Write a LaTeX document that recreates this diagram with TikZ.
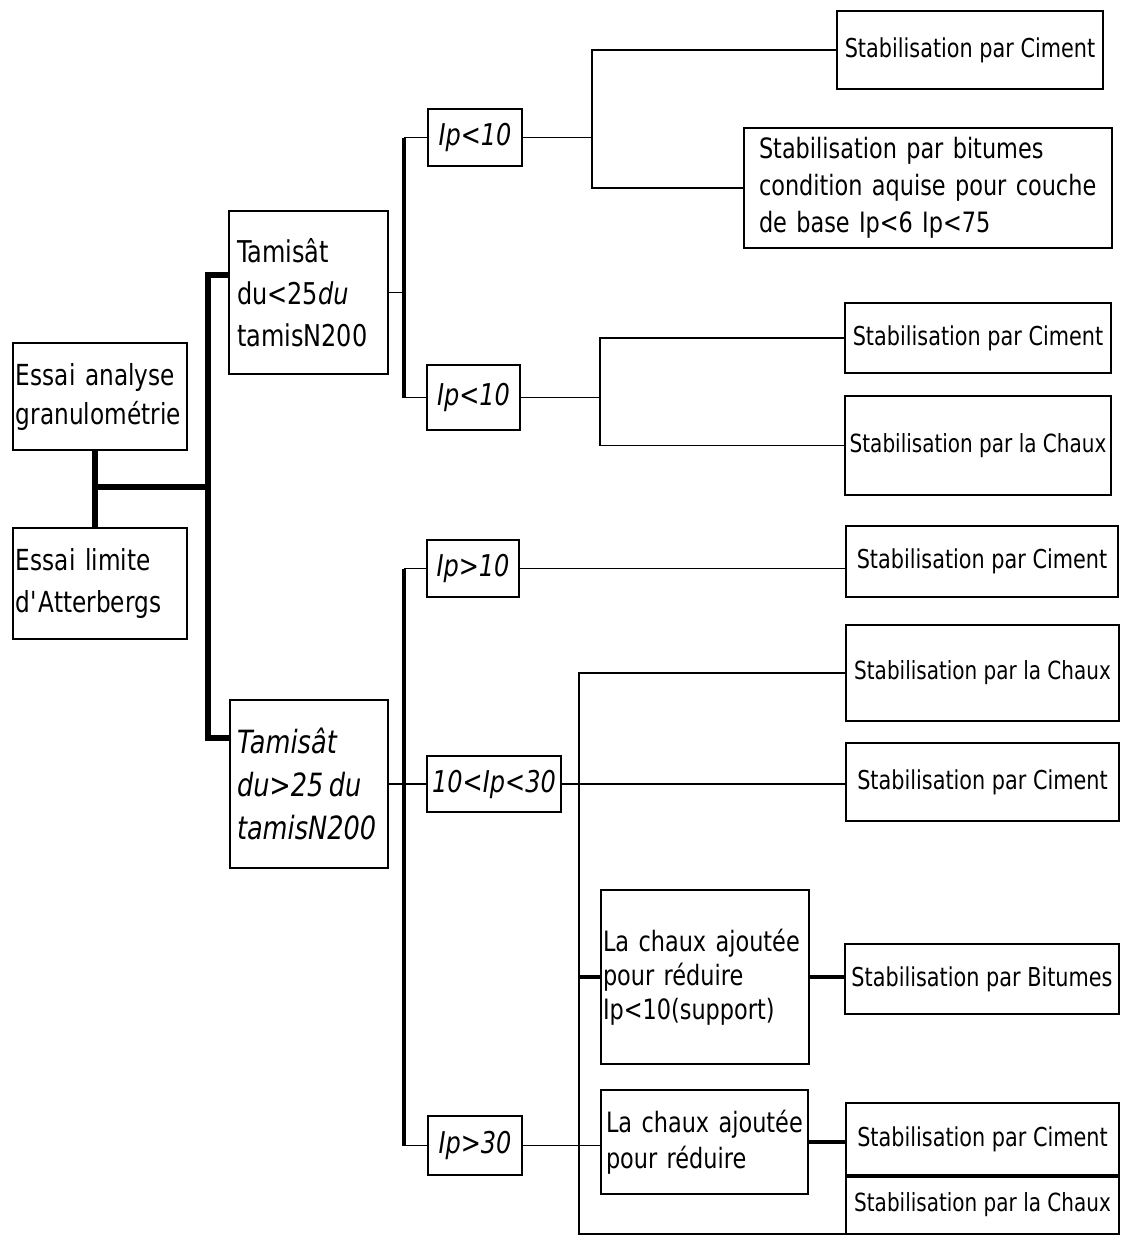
\documentclass[tikz,border=0pt]{standalone}
\usepackage{fontspec}
\setmainfont{DejaVu Sans}[FakeStretch=0.8, ItalicFont={DejaVu Sans Oblique}, BoldFont={DejaVu Sans Bold}]
\usetikzlibrary{calc}
\newcommand{\setfs}[2]{\fontsize{#1pt}{#2pt}\selectfont}
\begin{document}
\begin{tikzpicture}[x=1pt,y=-1pt,
  box/.style={draw, line width=1.6pt, inner sep=0pt, outer sep=0pt},
  leftbox/.style={box, align=left},
  ipbox/.style={box, align=center, font=\setfs{30}{36}\itshape},
  resbox/.style={box, align=center, font=\setfs{26}{30}},
  chauxbox/.style={box, align=center, font=\setfs{25}{30}},
  thin/.style={line width=1.8pt},
  med/.style={line width=3.2pt},
  thk/.style={line width=6pt},
  thkb/.style={line width=4.5pt},
]
\useasboundingbox (0,0) rectangle (1127,1237);

% level 0
\node[leftbox, minimum width=174pt, minimum height=107pt, text width=168pt, inner xsep=3pt, font=\setfs{29}{39}] (ea) at (100,396.5) {Essai analyse\\granulométrie};
\node[leftbox, minimum width=174pt, minimum height=111pt, text width=168pt, inner xsep=3pt, font=\setfs{29}{42}] (el) at (100,583.5) {Essai limite\\d\textquotesingle Atterbergs};

% level 1
\node[leftbox, minimum width=159pt, minimum height=163pt, text width=143pt, inner xsep=8pt, font=\setfs{30}{42}] (t1) at (308.5,292.5) {Tamisât\\du<25\textit{du}\\tamisN200};
\node[leftbox, minimum width=158pt, minimum height=168pt, text width=144pt, inner xsep=7pt, font=\setfs{32}{43}\itshape] (t2) at (309,784) {Tamisât\\du>25\,du\\tamisN200};

% level 2
\node[ipbox, minimum width=94pt, minimum height=57pt] (a1) at (475,137.5) {Ip<10};
\node[ipbox, minimum width=93pt, minimum height=65pt] (a2) at (473.5,397.5) {Ip<10};
\node[ipbox, minimum width=92pt, minimum height=57pt] (b1) at (473,568.5) {Ip>10};
\node[ipbox, minimum width=134pt, minimum height=56pt] (b2) at (494,784) {10<Ip<30};
\node[ipbox, minimum width=94pt, minimum height=59pt] (b3) at (475,1145.5) {Ip>30};

% intermediate
\node[leftbox, minimum width=208pt, minimum height=174pt, text width=204pt, inner xsep=2pt, font=\setfs{28}{34}] (c1) at (705,977) {La chaux ajoutée\\pour réduire\\Ip<10(support)};
\node[leftbox, minimum width=207pt, minimum height=104pt, text width=197pt, inner xsep=5pt, font=\setfs{28}{36}] (c2) at (704.5,1142) {La chaux ajoutée\\pour réduire};

% results
\node[resbox, minimum width=266pt, minimum height=78pt] (r1) at (970,50) {Stabilisation par Ciment};
\node[leftbox, minimum width=368pt, minimum height=120pt, text width=338pt, inner xsep=15pt, font=\setfs{28}{37}] (r2) at (928,188) {Stabilisation par bitumes\\condition aquise pour couche\\de base Ip<6 Ip<75};
\node[resbox, minimum width=266pt, minimum height=70pt] (r3) at (978,338) {Stabilisation par Ciment};
\node[chauxbox, minimum width=266pt, minimum height=99pt] (r4) at (978,445.5) {Stabilisation par la Chaux};
\node[resbox, minimum width=272pt, minimum height=71pt] (r5) at (982,561.5) {Stabilisation par Ciment};
\node[chauxbox, minimum width=273pt, minimum height=96pt] (r6) at (982.5,673) {Stabilisation par la Chaux};
\node[resbox, minimum width=273pt, minimum height=78pt] (r7) at (982.5,782) {Stabilisation par Ciment};
\node[resbox, minimum width=274pt, minimum height=70pt] (r8) at (982,979) {Stabilisation par Bitumes};
\node[resbox, minimum width=273pt, minimum height=73pt] (r9) at (982.5,1139.5) {Stabilisation par Ciment};
\node[chauxbox, minimum width=273pt, minimum height=58pt] (r10) at (982.5,1205) {Stabilisation par la Chaux};

% connectors, left part
\coordinate (j0) at (95,487);
\coordinate (j1) at (208,487);
\draw[thk] (ea.south -| j0) -- (el.north -| j0);
\draw[thk] (j0) -- (j1);
\draw[thk] ([yshift=-64pt]t1.north west) -| (j1) |- ([yshift=-38pt]t2.north west);

% upper branch
\coordinate (v1) at (404,292.5);
\draw[thin] (t1.east) -- (v1);
\draw[med] (a1.west -| v1) -- (a2.west -| v1);
\draw[thin] (a1.west -| v1) -- (a1.west);
\draw[thin] (a2.west -| v1) -- (a2.west);

\coordinate (v2) at (592,137.5);
\draw[thin] (a1.east) -- (v2);
\draw[thin] (r1.west) -| (v2) |- (r2.west);

\coordinate (v3) at (600,397.5);
\draw[thin] (a2.east) -- (v3);
\draw[thin] (r3.west) -| (v3) |- (r4.west);

% lower branch
\coordinate (v4) at (404,784);
\draw[med] (b1.west -| v4) -- (b3.west -| v4);
\draw[thin] (b1.west -| v4) -- (b1.west);
\draw[thin] (b3.west -| v4) -- (b3.west);
\draw[thin] (t2.east) -- (b2.west);

\draw[thin] (b1.east) -- (b1.east -| r5.west);
\draw[thin] (b2.east) -- (b2.east -| r7.west);
\coordinate (v5) at (579,784);
\draw[thin] (r6.west) -| (v5) |- (r10.south west);
\draw[thkb] (v5 |- c1.west) -- (c1.west);
\draw[thkb] (c1.east) -- (c1.east -| r8.west);
\draw[thin] (b3.east) -- (b3.east -| c2.west);
\draw[thkb] (c2.east) -- (c2.east -| r9.west);
\draw[line width=4pt] (r9.south west) -- (r9.south east);
\end{tikzpicture}
\end{document}
